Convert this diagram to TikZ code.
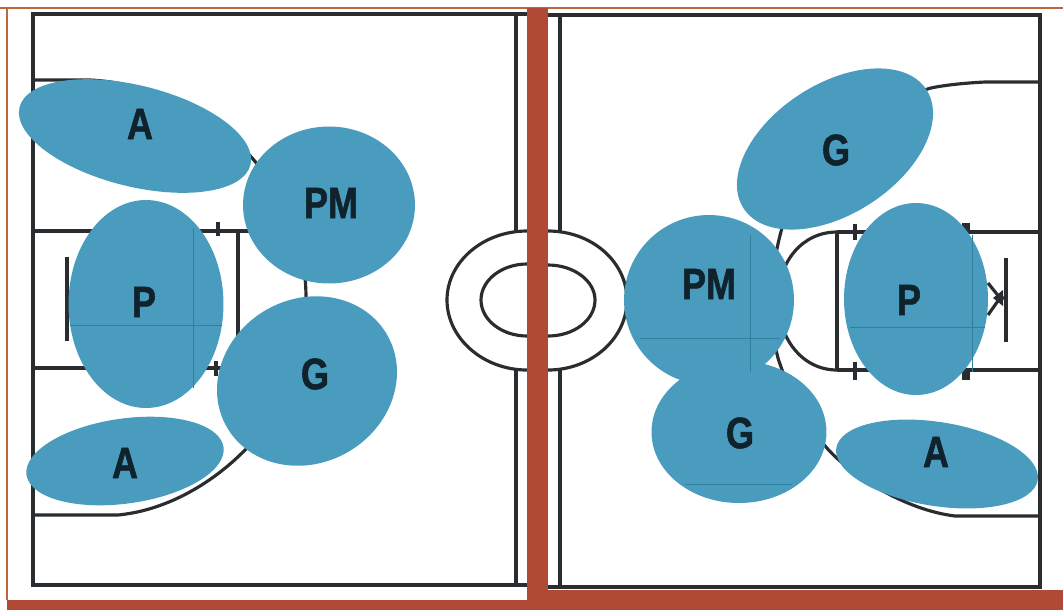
\documentclass[tikz,border=0pt]{standalone}
\usepackage{fontspec}
\usetikzlibrary{shapes.geometric}
\newfontfamily\playerfont[FakeStretch=0.82, BoldFeatures={FakeBold=1.2}]{Liberation Sans}
\definecolor{courtblue}{HTML}{4A9CBE}
\definecolor{seamblue}{HTML}{2F7F9E}
\definecolor{brick}{HTML}{B04A35}
\definecolor{rim}{HTML}{C0663F}
\definecolor{courtline}{HTML}{2A2D30}
\definecolor{labink}{HTML}{10222C}

\begin{document}
\begin{tikzpicture}[
      x=0.02cm, y=-0.02cm,
      court/.style={draw=courtline, line width=1.8pt},
      player/.style={ellipse, fill=courtblue, inner sep=0pt},
      seam/.style={draw=seamblue, line width=0.5pt},
      lab/.style={font=\playerfont\bfseries\fontsize{25}{25}\selectfont,
        text=labink, inner sep=0pt}
    ]
    \useasboundingbox (0,0) rectangle (1063,610);

    % frame
    \fill[white] (0,0) rectangle (1063,610);
    \draw[rim, line width=1pt] (0,8) -- (1063,8);
    \draw[rim, line width=1.4pt] (7,8) -- (7,600);
    \fill[brick] (7,600) rectangle (527,610);
    \fill[brick] (527,590) rectangle (1063,610);

    % left half
    \draw[court] (527,14) -- (33,14) -- (33,585) -- (527,585);
    \draw[court] (516,14) -- (516,231) (516,370) -- (516,585);
    \draw[court] (33,231) -- (250,231) (33,368) -- (240,368);
    \draw[court] (238,231) -- (238,368) (67,257) -- (67,341);
    \draw[court] (218,222) -- (218,236) (216,361) -- (216,376);
    \draw[court] (33,80) -- (90,80) .. controls (170,84) and (230,130) .. (258,165)
      .. controls (290,205) and (306,250) .. (306,298)
      .. controls (306,350) and (285,412) .. (243,452)
      .. controls (215,480) and (170,510) .. (118,515) -- (33,515);
    \draw[court] (527,231) .. controls (483,231) and (447,262) .. (447,300)
      .. controls (447,338) and (483,370) .. (527,370);
    \draw[court] (527,264) .. controls (502,264) and (481,280) .. (481,300)
      .. controls (481,320) and (502,336) .. (527,336);

    % right half
    \draw[court] (548,15) -- (1040,15) -- (1040,587) -- (548,587);
    \draw[court] (560,15) -- (560,231) (560,370) -- (560,587);
    \draw[court] (837,232) -- (1040,232) (837,370) -- (1040,370);
    \draw[court] (837,232) -- (837,370) (1006,258) -- (1006,342);
    \draw[court] (855,224) -- (855,240) (855,362) -- (855,380);
    \draw[court, line width=4.5pt] (966,223) -- (966,232) (966,370) -- (966,380);
    \draw[court] (988,283) -- (1000,298) -- (988,315) (995,298) -- (1006,298);
    \fill[courtline] (993,298) -- (1003,290) -- (1003,306) -- cycle;
    \draw[court] (837,232) .. controls (802,232) and (778,262) .. (778,300)
      .. controls (778,338) and (802,370) .. (837,370);
    \draw[court] (1040,82) -- (985,82) .. controls (965,83) and (945,85) .. (931,88)
      .. controls (870,105) and (800,170) .. (782,228)
      .. controls (770,270) and (768,320) .. (778,358)
      .. controls (790,395) and (805,425) .. (826,447)
      .. controls (850,475) and (905,510) .. (955,516) -- (1040,516);
    \draw[court] (548,231) .. controls (592,231) and (627,262) .. (627,300)
      .. controls (627,338) and (592,370) .. (548,370);
    \draw[court] (548,265) .. controls (574,265) and (595,281) .. (595,300)
      .. controls (595,320) and (574,336) .. (548,336);

    % players
    \node[player, minimum width=4.76cm, minimum height=2.02cm, rotate=-14] at (135,136) (atop) {};
    \node[player, minimum width=3.44cm, minimum height=3.14cm] at (329,205) (pmleft) {};
    \node[player, minimum width=3.1cm, minimum height=4.16cm] at (146,304) (pleft) {};
    \node[player, minimum width=3.7cm, minimum height=3.28cm, rotate=30] at (307,381) (gleft) {};
    \node[player, minimum width=3.98cm, minimum height=1.7cm, rotate=8] at (125,461) (abottom) {};
    \node[player, minimum width=4.36cm, minimum height=2.6cm, rotate=33] at (835,149) (gtop) {};
    \node[player, minimum width=3.4cm, minimum height=3.4cm] at (709,300) (pmright) {};
    \node[player, minimum width=3.5cm, minimum height=2.84cm] at (739,432) (gbottom) {};
    \node[player, minimum width=2.88cm, minimum height=3.84cm] at (916,299) (pright) {};
    \node[player, minimum width=4.08cm, minimum height=1.68cm, rotate=-9] at (937,464) (aright) {};

    % lines showing through
    \draw[seam] (70,325) -- (222,325) (193,228) -- (193,388);
    \draw[seam] (640,338) -- (780,338) (750,235) -- (750,372);
    \draw[seam] (850,327) -- (985,327) (972,235) -- (972,372);
    \draw[seam] (685,484) -- (792,484);

    \node[lab] at (140,124) (atoplab) {A};
    \node[lab] at (331,203) (pmleftlab) {PM};
    \node[lab] at (144,302) (pleftlab) {P};
    \node[lab] at (315,374) (gleftlab) {G};
    \node[lab] at (125,463) (abottomlab) {A};
    \node[lab] at (836,150) (gtoplab) {G};
    \node[lab] at (709,284) (pmrightlab) {PM};
    \node[lab] at (909,300) (prightlab) {P};
    \node[lab] at (740,433) (gbottomlab) {G};
    \node[lab] at (936,452) (arightlab) {A};

    % divider
    \fill[brick] (527,8) rectangle (548,610);
  \end{tikzpicture}
\end{document}
